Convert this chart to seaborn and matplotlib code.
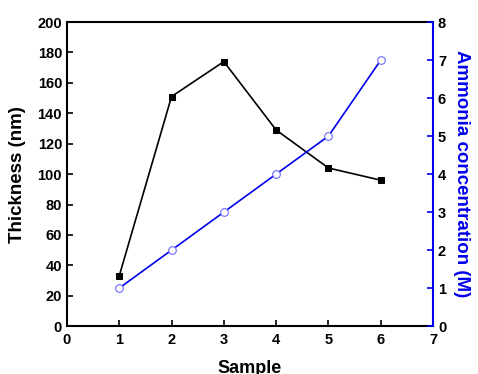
import matplotlib
matplotlib.use("Agg")
import matplotlib.pyplot as plt
import seaborn as sns
import pandas as pd

# === DADOS ===
sample = [1, 2, 3, 4, 5, 6]
thickness = [33, 151, 174, 129, 104, 96]
ammonia = [1, 2, 3, 4, 5, 7]

df = pd.DataFrame({"sample": sample, "thickness": thickness, "ammonia": ammonia})

sns.set_style("ticks")
plt.rcParams["font.family"] = ["Liberation Sans", "DejaVu Sans"]
plt.rcParams["font.weight"] = "bold"
plt.rcParams["text.color"] = "black"
plt.rcParams["axes.labelcolor"] = "black"
plt.rcParams["xtick.color"] = "black"
plt.rcParams["ytick.color"] = "black"

fig, ax = plt.subplots(figsize=(4.78, 3.74), dpi=100)
fig.subplots_adjust(left=0.140, right=0.906, top=0.941, bottom=0.128)

sns.lineplot(data=df, x="sample", y="thickness", ax=ax, color="black",
             marker="s", markersize=5, markeredgecolor="black", linewidth=1.2)

ax2 = ax.twinx()
sns.lineplot(data=df, x="sample", y="ammonia", ax=ax2, color="#0000ee",
             marker="o", markersize=5.5, markerfacecolor="white",
             markeredgecolor="#6a6aff", markeredgewidth=0.8, linewidth=1.2)

ax.set_xlim(0, 7)
ax.set_ylim(0, 200)
ax2.set_ylim(0, 8)
ax.set_xticks(range(0, 8))
ax.set_yticks(range(0, 201, 20))
ax2.set_yticks(range(0, 9))

ax.tick_params(direction="in", length=4, width=1.2, labelsize=10.5, colors="black")
ax2.tick_params(direction="in", length=4, width=1.2, labelsize=10.5, labelcolor="black")
ax2.tick_params(axis="y", color="#0000ee")
ax.tick_params(axis="x", pad=5)

for s in ["left", "top", "bottom"]:
    ax.spines[s].set_linewidth(1.5)
    ax.spines[s].set_color("black")
ax.spines["right"].set_visible(False)
for s in ["left", "top", "bottom"]:
    ax2.spines[s].set_visible(False)
ax2.spines["right"].set_color("#0000ee")
ax2.spines["right"].set_linewidth(1.5)

ax.set_xlabel("Sample", fontsize=13, fontweight="bold", labelpad=9, color="black")
ax.set_ylabel("Thickness (nm)", fontsize=13.5, fontweight="bold", labelpad=8, color="black")
ax2.set_ylabel("Ammonia concentration (M)", fontsize=13.5, fontweight="bold",
               color="#0000ee", rotation=270, labelpad=17)

fig.savefig("out.png", dpi=100)
